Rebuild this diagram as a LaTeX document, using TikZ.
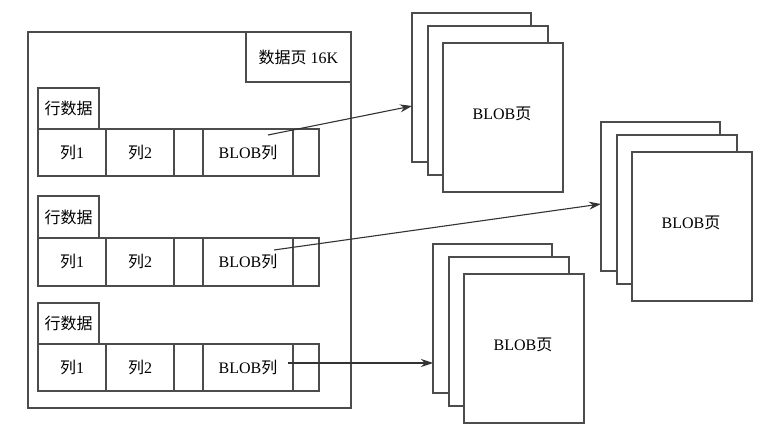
\documentclass[tikz,border=0pt]{standalone}
\usepackage{fontspec}
\setmainfont{Liberation Serif}
\newfontfamily\cjk{Noto Sans CJK SC}
\usetikzlibrary{arrows.meta}
\begin{document}
\begin{tikzpicture}[x=1pt,y=-1pt,
  line/.style={draw=black!70,line width=1.1pt},
  box/.style={line,fill=white,rectangle,inner sep=0pt,outer sep=0pt,anchor=north west,font=\fontsize{16}{16}\selectfont},
  conn/.style={draw=black!80,line width=1.1pt,-{Stealth[length=12pt,width=8pt]}}]
\useasboundingbox (0,0) rectangle (763,446);
\fill[white] (0,0) rectangle (763,446);
% outer data page
\node[box,minimum width=323pt,minimum height=376pt] (page) at (28,32) {};
\node[box,minimum width=105pt,minimum height=50pt] (title) at (246,32) {{\cjk 数据页} 16K};
% rows
\foreach \r/\yt/\yc/\hc in {1/88/129/47, 2/196/238/48, 3/303/344/47}{
  \node[box,minimum width=61pt,minimum height={\yc-\yt}] (lab\r) at (38,\yt) {\cjk 行数据};
  \node[box,minimum width=68pt,minimum height=\hc] (c\r a) at (38,\yc) {{\cjk 列}1};
  \node[box,minimum width=68pt,minimum height=\hc] (c\r b) at (106,\yc) {{\cjk 列}2};
  \node[box,minimum width=29pt,minimum height=\hc] (c\r c) at (174,\yc) {};
  \node[box,minimum width=90pt,minimum height=\hc] (c\r d) at (203,\yc) {BLOB{\cjk 列}};
  \node[box,minimum width=26pt,minimum height=\hc] (c\r e) at (293,\yc) {};
}
% BLOB page stacks
\foreach \s/\x/\y in {1/412/13, 2/601/122, 3/433/244}{
  \node[box,minimum width=119pt,minimum height=149pt] (s\s a) at (\x,\y) {};
  \node[box,minimum width=120pt,minimum height=149pt] (s\s b) at ({\x+16},{\y+13}) {};
  \node[box,minimum width=120pt,minimum height=149pt] (s\s c) at ({\x+31},{\y+30}) {};
  \node[font=\fontsize{16}{16}\selectfont] (t\s) at ({\x+90},{\y+101}) {BLOB{\cjk 页}};
}
% connectors
\coordinate (p1) at (268,135);
\coordinate (p2) at (274,250);
\coordinate (p3) at (288,363);
\draw[conn] (p1) -- (s1a.west |- 0,106);
\draw[conn] (p2) -- (s2a.west |- 0,204);
\draw[conn] (p3) -- (s3a.west |- 0,363);
\end{tikzpicture}
\end{document}
